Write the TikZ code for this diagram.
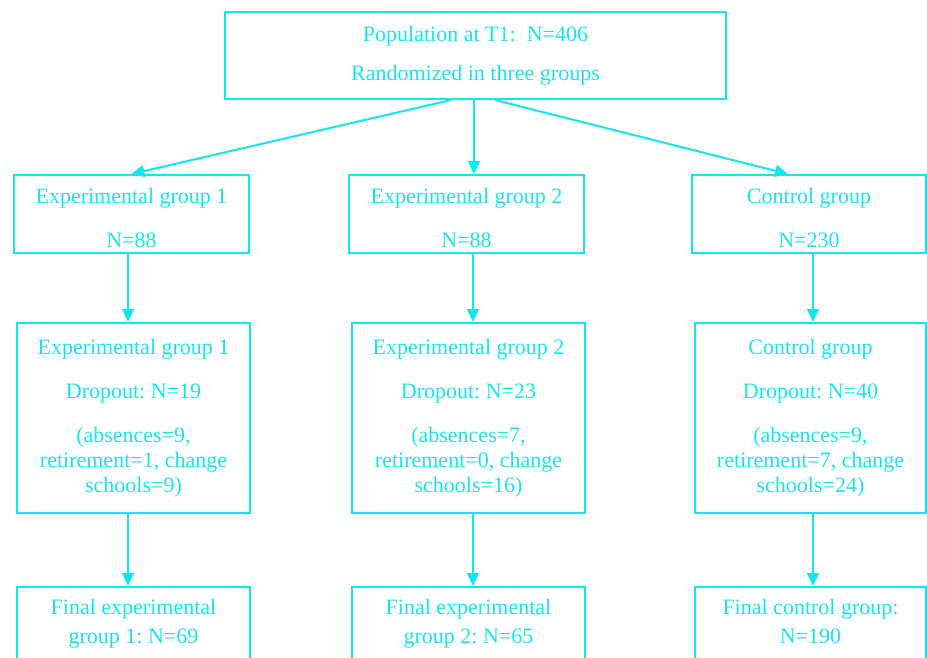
\documentclass[tikz,border=0pt]{standalone}
\usepackage{fontspec}
\setmainfont{Liberation Serif}
\usetikzlibrary{arrows.meta}
\definecolor{cy}{RGB}{20,230,240}
\tikzset{
  box/.style={draw=cy, line width=2pt, text=cy, align=center, inner sep=0pt,
    font=\fontsize{22}{25}\selectfont\frenchspacing},
  txt/.style={text=cy, align=center, inner sep=0pt, font=\fontsize{22}{25}\selectfont\frenchspacing},
  arr/.style={draw=cy, line width=2pt, -{Triangle[length=13pt,width=12pt]}}
}
\begin{document}
\begin{tikzpicture}[x=1pt,y=-1pt]
\useasboundingbox (0,0) rectangle (927,658);
% top
\node[box, minimum width=501, minimum height=87] (top) at (475.5,55.5)
  {Population at T1:\ \ N=406\\[14pt]Randomized in three groups};
% row 2
\node[box, minimum width=235, minimum height=78] (e1) at (131.5,214)
  {\rule{0pt}{23pt}Experimental group 1\\[19pt]N=88};
\node[box, minimum width=235, minimum height=78] (e2) at (466.5,214)
  {\rule{0pt}{23pt}Experimental group 2\\[19pt]N=88};
\node[box, minimum width=234, minimum height=78] (c) at (809,214)
  {\rule{0pt}{23pt}Control group\\[19pt]N=230};
% row 3
\node[box, minimum width=233, minimum height=190] (d1) at (133.5,418)
  {Experimental group 1\\[19pt]Dropout: N=19\\[19pt](absences=9,\\retirement=1, change\\schools=9)};
\node[box, minimum width=233, minimum height=190] (d2) at (468.5,418)
  {Experimental group 2\\[19pt]Dropout: N=23\\[19pt](absences=7,\\retirement=0, change\\schools=16)};
\node[box, minimum width=231, minimum height=190] (d3) at (810.5,418)
  {Control group\\[19pt]Dropout: N=40\\[19pt](absences=9,\\retirement=7, change\\schools=24)};
% row 4
\node[box, minimum width=233, minimum height=110, anchor=north] (f1) at (133.5,586) {};
\node[box, minimum width=233, minimum height=110, anchor=north] (f2) at (468.5,586) {};
\node[box, minimum width=231, minimum height=110, anchor=north] (f3) at (810.5,586) {};
\node[txt] (f1t) at (133.5,624) {Final experimental\\[4pt]group 1: N=69};
\node[txt] (f2t) at (468.5,624) {Final experimental\\[4pt]group 2: N=65};
\node[txt] (f3t) at (810.5,621) {Final control group:\\[4pt]N=190};
% connectors
\draw[arr] ([xshift=-24.5pt]top.south) -- (e1.north);
\draw[arr] ([xshift=-1.5pt]top.south) -- ([xshift=7.5pt]e2.north);
\draw[arr] ([xshift=19.5pt]top.south) -- ([xshift=-21pt]c.north);
\draw[arr] ([xshift=-3.5pt]e1.south) -- ([xshift=-5.5pt]d1.north);
\draw[arr] ([xshift=6.5pt]e2.south) -- ([xshift=4.5pt]d2.north);
\draw[arr] ([xshift=4pt]c.south) -- ([xshift=2.5pt]d3.north);
\draw[arr] ([xshift=-5.5pt]d1.south) -- ([xshift=-5.5pt]f1.north);
\draw[arr] ([xshift=4.5pt]d2.south) -- ([xshift=4.5pt]f2.north);
\draw[arr] ([xshift=2.5pt]d3.south) -- ([xshift=2.5pt]f3.north);
\end{tikzpicture}
\end{document}
